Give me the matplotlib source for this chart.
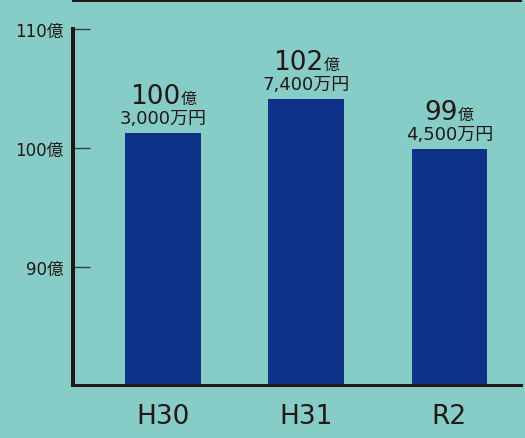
import matplotlib
matplotlib.use("Agg")
import matplotlib.pyplot as plt
from matplotlib.transforms import offset_copy

plt.rcParams['font.family'] = ['DejaVu Sans', 'Noto Sans CJK JP']

categories = ['H30', 'H31', 'R2']
bar_heights = [101.25, 104.1, 99.9]          # 億 (as drawn)
label_oku = ['100', '102', '99']
label_man = ['3,000万円', '7,400万円', '4,500万円']
yticks = [90, 100, 110]
ytick_labels = ['90億', '100億', '110億']

BG = '#86CDC8'
BAR = '#0D3288'
INK = '#231815'

W, H = 525, 439
fig = plt.figure(figsize=(W / 100, H / 100), dpi=100, facecolor=BG)
ax = fig.add_axes([73 / W, 1 - 386.3 / H, (521 - 73) / W, (386.3 - 1.9) / H])
ax.set_facecolor(BG)

x = list(range(len(categories)))
ax.bar(x, bar_heights, width=0.53, color=BAR, zorder=2)
ax.set_xlim(-0.63, 2.50)
ax.set_ylim(80.0, 112.37)

ax.spines['right'].set_visible(False)
ax.spines['left'].set_linewidth(2.9)
ax.spines['bottom'].set_linewidth(2.2)
ax.spines['top'].set_linewidth(1.4)
for s in ['left', 'bottom', 'top']:
    ax.spines[s].set_color(INK)
ax.spines['left'].set_bounds(80.0, 110)

ax.set_yticks(yticks)
ax.set_yticklabels(ytick_labels, fontsize=12, color=INK)
ax.tick_params(axis='y', direction='in', length=12.2, width=1.0, color='#3a3a3a', pad=7)
ax.set_xticks(x)
ax.set_xticklabels(categories, fontsize=19, color=INK)
ax.tick_params(axis='x', length=0, pad=13)

fig.canvas.draw()
renderer = fig.canvas.get_renderer()
for xi, h, big, small in zip(x, bar_heights, label_oku, label_man):
    t = ax.text(xi, h, small, fontsize=13, color=INK, ha='center', va='baseline',
                transform=offset_copy(ax.transData, fig, x=0, y=10, units='dots'))
    t1 = ax.text(xi, h, big, fontsize=19, color=INK, ha='left', va='baseline')
    t2 = ax.text(xi, h, '億', fontsize=11.5, color=INK, ha='left', va='baseline')
    w1 = t1.get_window_extent(renderer).width
    w2 = t2.get_window_extent(renderer).width
    start = -(w1 + w2) / 2
    t1.set_transform(offset_copy(ax.transData, fig, x=start, y=30, units='dots'))
    t2.set_transform(offset_copy(ax.transData, fig, x=start + w1, y=30, units='dots'))

fig.savefig('out.png', dpi=100, facecolor=BG)
